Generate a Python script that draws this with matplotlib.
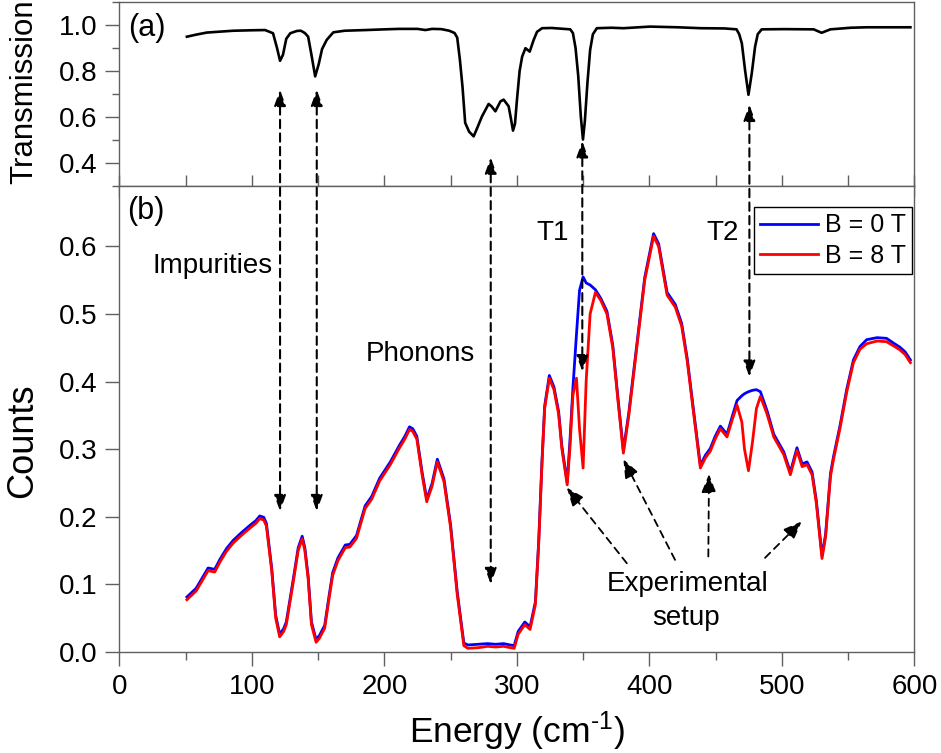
import matplotlib
matplotlib.use("Agg")
import matplotlib.pyplot as plt
from matplotlib.patches import ConnectionPatch
from matplotlib.ticker import MultipleLocator

plt.rcParams["font.family"] = ["Liberation Sans", "DejaVu Sans"]
plt.rcParams["mathtext.fontset"] = "custom"
plt.rcParams["mathtext.rm"] = "Liberation Sans"
plt.rcParams["mathtext.default"] = "regular"

# (a) transmission spectrum
energy_t = [
    51, 58, 66, 76, 86, 100, 110, 116, 119, 121.3,
    123.5, 126, 129, 134, 137, 140, 142.5, 145, 147.8, 150.5,
    153, 156.5, 161.5, 170, 186, 200, 211, 225, 231, 236,
    243, 249, 253, 255, 257, 259, 261, 264, 267.4, 270,
    273.7, 278.7, 281, 283.8, 287.6, 290, 293.8, 295.6, 297.1, 298.6,
    300.1, 302.1, 304, 306.5, 309.7, 312.7, 315.2, 319, 326.2, 340.3,
    342.3, 344.3, 346.3, 348.3, 349.9, 351.3, 353.3, 355.3, 357.4, 360.4,
    371.4, 380.4, 400.5, 421.6, 438.7, 456.7, 465.8, 467.8, 469.8, 472.3,
    474.8, 477.3, 479.8, 481.8, 484.8, 501.9, 524, 530, 536.6, 552,
    564, 582, 597,
]
transmission = [
    0.949, 0.958, 0.967, 0.971, 0.975, 0.977, 0.978, 0.964, 0.900, 0.844,
    0.870, 0.940, 0.964, 0.974, 0.975, 0.965, 0.949, 0.870, 0.776, 0.830,
    0.895, 0.935, 0.968, 0.975, 0.978, 0.981, 0.983, 0.983, 0.978, 0.983,
    0.982, 0.975, 0.965, 0.945, 0.850, 0.730, 0.574, 0.535, 0.515, 0.550,
    0.602, 0.656, 0.645, 0.624, 0.667, 0.675, 0.646, 0.590, 0.540, 0.570,
    0.675, 0.800, 0.862, 0.899, 0.884, 0.935, 0.970, 0.986, 0.987, 0.981,
    0.965, 0.900, 0.780, 0.600, 0.501, 0.580, 0.750, 0.891, 0.960, 0.986,
    0.988, 0.986, 0.993, 0.990, 0.986, 0.985, 0.981, 0.960, 0.920, 0.800,
    0.696, 0.790, 0.906, 0.960, 0.981, 0.982, 0.981, 0.966, 0.981, 0.988,
    0.990, 0.990, 0.990,
]

# (b) counts at B = 0 T and B = 8 T
energy_b = [
    51, 58, 64, 67, 72, 76, 81, 86, 92, 98.5,
    103, 106, 109, 111, 115, 118, 121, 124, 126, 131,
    135, 138, 140, 142.5, 145, 148.5, 151, 155, 158, 161,
    165, 170.5, 174, 179, 185.5, 190.5, 196.5, 204.5, 211.5, 215.5,
    219, 221.5, 224.5, 228.5, 232, 236, 240, 245, 250, 255,
    260, 263, 271, 278, 284, 290, 295, 298, 301, 306,
    310, 314, 316.5, 319, 321, 324.5, 328, 331.5, 334, 338,
    340, 342.3, 345, 347.3, 350, 352.3, 355.3, 359.3, 363.4, 368,
    372.4, 376.4, 380.4, 384.5, 390.5, 396.5, 403.2, 407, 410.6, 413.4,
    419.6, 424.4, 428.6, 432.2, 438.5, 442.3, 446, 449.7, 453.6, 458.6,
    462.8, 466.2, 469.8, 471.8, 474.8, 477.8, 480.8, 483.8, 488.8, 493.9,
    501.4, 506.4, 511.4, 515.3, 519, 522.8, 526, 530.3, 533, 536.7,
    539, 544, 549, 554, 559, 564, 571.8, 579, 585, 589,
    593, 597,
]
counts_0T = [
    0.081, 0.094, 0.114, 0.124, 0.122, 0.137, 0.153, 0.165, 0.176, 0.187,
    0.194, 0.201, 0.199, 0.190, 0.124, 0.054, 0.026, 0.034, 0.044, 0.104,
    0.154, 0.171, 0.154, 0.112, 0.044, 0.018, 0.024, 0.039, 0.079, 0.117,
    0.139, 0.158, 0.159, 0.172, 0.216, 0.230, 0.257, 0.281, 0.306, 0.319,
    0.333, 0.330, 0.319, 0.266, 0.226, 0.249, 0.285, 0.256, 0.188, 0.089,
    0.013, 0.010, 0.011, 0.012, 0.011, 0.012, 0.010, 0.009, 0.030, 0.044,
    0.037, 0.074, 0.164, 0.284, 0.364, 0.409, 0.392, 0.356, 0.304, 0.251,
    0.310, 0.390, 0.470, 0.535, 0.555, 0.546, 0.543, 0.536, 0.523, 0.504,
    0.454, 0.374, 0.298, 0.354, 0.454, 0.554, 0.619, 0.604, 0.564, 0.532,
    0.514, 0.486, 0.434, 0.376, 0.276, 0.291, 0.301, 0.319, 0.334, 0.322,
    0.350, 0.372, 0.379, 0.382, 0.385, 0.387, 0.388, 0.385, 0.357, 0.322,
    0.296, 0.266, 0.302, 0.278, 0.281, 0.266, 0.224, 0.142, 0.174, 0.264,
    0.289, 0.336, 0.389, 0.432, 0.452, 0.462, 0.465, 0.464, 0.456, 0.451,
    0.444, 0.432,
]
counts_8T = [
    0.077, 0.090, 0.110, 0.120, 0.118, 0.133, 0.149, 0.161, 0.172, 0.183,
    0.190, 0.197, 0.195, 0.186, 0.120, 0.050, 0.022, 0.030, 0.040, 0.100,
    0.150, 0.167, 0.150, 0.108, 0.040, 0.014, 0.020, 0.035, 0.075, 0.113,
    0.135, 0.154, 0.155, 0.168, 0.212, 0.226, 0.253, 0.277, 0.302, 0.315,
    0.329, 0.326, 0.315, 0.262, 0.222, 0.245, 0.281, 0.252, 0.184, 0.085,
    0.009, 0.005, 0.006, 0.008, 0.007, 0.008, 0.006, 0.005, 0.026, 0.040,
    0.033, 0.070, 0.160, 0.280, 0.360, 0.405, 0.388, 0.352, 0.300, 0.247,
    0.300, 0.380, 0.405, 0.330, 0.272, 0.400, 0.500, 0.532, 0.520, 0.500,
    0.450, 0.370, 0.294, 0.350, 0.450, 0.550, 0.615, 0.600, 0.560, 0.528,
    0.510, 0.482, 0.430, 0.372, 0.272, 0.287, 0.297, 0.315, 0.330, 0.318,
    0.345, 0.365, 0.340, 0.300, 0.268, 0.310, 0.360, 0.378, 0.352, 0.318,
    0.292, 0.262, 0.298, 0.274, 0.277, 0.262, 0.220, 0.138, 0.170, 0.260,
    0.285, 0.332, 0.385, 0.428, 0.448, 0.456, 0.460, 0.459, 0.452, 0.447,
    0.440, 0.428,
]

# double-headed arrows linking panel (a) dips to panel (b): x, y in (a), y in (b)
link_x = [121.3, 149, 280.3, 349.4, 475.5]
link_top = [0.718, 0.718, 0.423, 0.494, 0.653]
link_bottom = [0.208, 0.208, 0.100, 0.415, 0.407]

# "Experimental setup" arrows: tail -> tip
setup_tail = [(383, 0.131), (419.4, 0.136), (444.5, 0.141), (487.3, 0.139)]
setup_tip = [(337.7, 0.243), (380.4, 0.285), (445, 0.263), (515, 0.193)]

SPINE = "#606060"


def style_axes(ax):
    for sp in ax.spines.values():
        sp.set_color(SPINE)
        sp.set_linewidth(1.0)
    ax.tick_params(which="both", colors=SPINE, labelcolor="black", labelsize=20, width=1.0)
    ax.tick_params(axis="y", which="major", direction="out", length=10, pad=6)
    ax.tick_params(axis="y", which="minor", direction="out", length=5)


fig = plt.figure(figsize=(9.41, 7.53), dpi=100)
ax_t = fig.add_axes([0.1268, 0.7534, 0.8449, 0.2439])
ax_b = fig.add_axes([0.1268, 0.1345, 0.8449, 0.6189])

# top panel
ax_t.plot(energy_t, transmission, color="black", lw=1.9)
ax_t.set_xlim(0, 600)
ax_t.set_ylim(0.3, 1.1)
ax_t.yaxis.set_major_locator(MultipleLocator(0.2))
ax_t.yaxis.set_minor_locator(MultipleLocator(0.1))
ax_t.xaxis.set_major_locator(MultipleLocator(100))
ax_t.xaxis.set_minor_locator(MultipleLocator(50))
style_axes(ax_t)
ax_t.tick_params(axis="x", which="both", direction="inout", length=16, labelbottom=False)
ax_t.text(6.6, 0.985, "(a)", fontsize=22, ha="left", va="center")
ax_t.patch.set_alpha(0)

# bottom panel
ax_b.plot(energy_b, counts_0T, color="#0000ff", lw=2.0, label="B = 0 T")
ax_b.plot(energy_b, counts_8T, color="#ff0000", lw=2.0, label="B = 8 T")
ax_b.set_xlim(0, 600)
ax_b.set_ylim(0, 0.69)
ax_b.yaxis.set_major_locator(MultipleLocator(0.1))
ax_b.xaxis.set_major_locator(MultipleLocator(100))
ax_b.xaxis.set_minor_locator(MultipleLocator(50))
style_axes(ax_b)
ax_b.tick_params(axis="x", which="major", direction="out", length=10, pad=6)
ax_b.tick_params(axis="x", which="minor", direction="out", length=6)
ax_b.text(5.6, 0.6526, "(b)", fontsize=22, ha="left", va="center")

leg = ax_b.legend(loc="upper right", bbox_to_anchor=(0.9975, 0.954), borderaxespad=0,
                  fontsize=18, handlelength=2.3, handletextpad=0.3, labelspacing=0.25,
                  borderpad=0.25, fancybox=False, framealpha=1, edgecolor="black")
leg.get_frame().set_linewidth(1.0)

ann_kw = dict(fontsize=20, ha="center", va="baseline")
ax_b.text(70.1, 0.561, "Impurities", **ann_kw)
ax_b.text(227, 0.431, "Phonons", **ann_kw)
ax_b.text(327, 0.609, "T1", **ann_kw)
ax_b.text(455.5, 0.609, "T2", **ann_kw)
ax_b.text(428.8, 0.0892, "Experimental", **ann_kw)
ax_b.text(427.5, 0.0397, "setup", **ann_kw)

for tail, tip in zip(setup_tail, setup_tip):
    ax_b.annotate("", xy=tip, xytext=tail,
                  arrowprops=dict(arrowstyle="-|>,head_length=0.7,head_width=0.28",
                                  ls=(0, (4, 3)), lw=1.3, color="black",
                                  shrinkA=0, shrinkB=0, mutation_scale=16))

for x, yt, yb in zip(link_x, link_top, link_bottom):
    con = ConnectionPatch(xyA=(x, yt), coordsA=ax_t.transData,
                          xyB=(x, yb), coordsB=ax_b.transData,
                          arrowstyle="<|-|>,head_length=0.6,head_width=0.22",
                          ls=(0, (4, 2.5)), lw=1.5, color="black", mutation_scale=16)
    fig.add_artist(con)

# axis titles
fig.text(0.026, 0.878, "Transmission", rotation=90, ha="center", va="center", fontsize=22.5)
fig.text(0.0244, 0.4143, "Counts", rotation=90, ha="center", va="center", fontsize=26)
fig.text(516.7 / 941, 0.0129, r"Energy (cm$^{\text{-1}}$)", ha="center", va="baseline",
         fontsize=25.5)

fig.savefig("out.png", dpi=100)
